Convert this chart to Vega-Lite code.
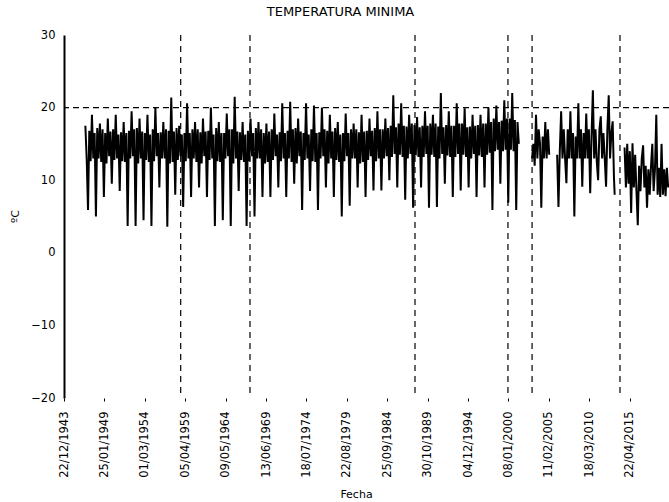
{
"$schema": "https://vega.github.io/schema/vega-lite/v6.json",
"width": 605, "height": 363,
"autosize": {"type": "none"},
"padding": {"left": 64, "top": 35, "right": 0, "bottom": 104},
"background": "white",
"title": {"text": "TEMPERATURA MINIMA", "font": "DejaVu Sans", "fontSize": 13, "fontWeight": "normal", "color": "black", "anchor": "middle", "dx": -26, "offset": 10},
"config": {"view": {"stroke": null}},
"layer": [
{
"data": {"values": [
{"d":"1946-09","t":17.5},{"d":"1946-11","t":13},
{"d":"1947-01","t":5.9},{"d":"1947-03","t":16.8},{"d":"1947-05","t":12.6},{"d":"1947-07","t":19},{"d":"1947-09","t":13},{"d":"1947-11","t":16.5},
{"d":"1948-01","t":5},{"d":"1948-03","t":17.2},{"d":"1948-05","t":13},{"d":"1948-07","t":17.8},{"d":"1948-09","t":12.5},{"d":"1948-11","t":17},
{"d":"1949-01","t":7.7},{"d":"1949-03","t":16.5},{"d":"1949-05","t":12.3},{"d":"1949-07","t":18.5},{"d":"1949-09","t":13.3},{"d":"1949-11","t":16.7},
{"d":"1950-01","t":9.5},{"d":"1950-03","t":17},{"d":"1950-05","t":12.8},{"d":"1950-07","t":19},{"d":"1950-09","t":13},{"d":"1950-11","t":16.3},
{"d":"1951-01","t":8.5},{"d":"1951-03","t":16.6},{"d":"1951-05","t":12.6},{"d":"1951-07","t":18},{"d":"1951-09","t":12.5},{"d":"1951-11","t":16.5},
{"d":"1952-01","t":3.7},{"d":"1952-03","t":16.8},{"d":"1952-05","t":13},{"d":"1952-07","t":19.5},{"d":"1952-09","t":13.3},{"d":"1952-11","t":17},
{"d":"1953-01","t":3.7},{"d":"1953-03","t":17.2},{"d":"1953-05","t":12.3},{"d":"1953-07","t":18.5},{"d":"1953-09","t":13},{"d":"1953-11","t":16.7},
{"d":"1954-01","t":4.5},{"d":"1954-03","t":16.5},{"d":"1954-05","t":12.8},{"d":"1954-07","t":19},{"d":"1954-09","t":12.5},{"d":"1954-11","t":16.3},
{"d":"1955-01","t":3.7},{"d":"1955-03","t":17},{"d":"1955-05","t":12.6},{"d":"1955-07","t":20},{"d":"1955-09","t":13.3},{"d":"1955-11","t":16.5},
{"d":"1956-01","t":9},{"d":"1956-03","t":16.6},{"d":"1956-05","t":13},{"d":"1956-07","t":18},{"d":"1956-09","t":13},{"d":"1956-11","t":17},
{"d":"1957-01","t":3.6},{"d":"1957-03","t":16.8},{"d":"1957-05","t":12.3},{"d":"1957-07","t":21.4},{"d":"1957-09","t":12.5},{"d":"1957-11","t":16.7},
{"d":"1958-01","t":8},{"d":"1958-03","t":17.2},{"d":"1958-05","t":12.8},{"d":"1958-07","t":17.5},{"d":"1958-09","t":13.3},{"d":"1958-11","t":16.3},
{"d":"1959-01","t":6.3},{"d":"1959-03","t":16.5},{"d":"1959-05","t":12.6},{"d":"1959-07","t":20.6},{"d":"1959-09","t":13},{"d":"1959-11","t":16.5},
{"d":"1960-01","t":7.7},{"d":"1960-03","t":17},{"d":"1960-05","t":13},{"d":"1960-07","t":18},{"d":"1960-09","t":12.5},{"d":"1960-11","t":17},
{"d":"1961-01","t":9},{"d":"1961-03","t":16.6},{"d":"1961-05","t":12.3},{"d":"1961-07","t":18.5},{"d":"1961-09","t":13.3},{"d":"1961-11","t":16.7},
{"d":"1962-01","t":7.7},{"d":"1962-03","t":16.8},{"d":"1962-05","t":12.8},{"d":"1962-07","t":20},{"d":"1962-09","t":13},{"d":"1962-11","t":16.3},
{"d":"1963-01","t":3.7},{"d":"1963-03","t":17.2},{"d":"1963-05","t":12.6},{"d":"1963-07","t":18},{"d":"1963-09","t":12.5},{"d":"1963-11","t":16.5},
{"d":"1964-01","t":4.5},{"d":"1964-03","t":16.5},{"d":"1964-05","t":13},{"d":"1964-07","t":19.2},{"d":"1964-09","t":13.3},{"d":"1964-11","t":17},
{"d":"1965-01","t":3.7},{"d":"1965-03","t":17},{"d":"1965-05","t":12.3},{"d":"1965-07","t":21.5},{"d":"1965-09","t":13},{"d":"1965-11","t":16.7},
{"d":"1966-01","t":8.5},{"d":"1966-03","t":16.6},{"d":"1966-05","t":12.8},{"d":"1966-07","t":18},{"d":"1966-09","t":12.5},{"d":"1966-11","t":16.3},
{"d":"1967-01","t":3.7},{"d":"1967-03","t":16.8},{"d":"1967-05","t":12.6},{"d":"1967-07","t":18.5},{"d":"1967-09","t":13.3},{"d":"1967-11","t":16.5},
{"d":"1968-01","t":5},{"d":"1968-03","t":17.2},{"d":"1968-05","t":13},{"d":"1968-07","t":18},{"d":"1968-09","t":13},{"d":"1968-11","t":17},
{"d":"1969-01","t":7.7},{"d":"1969-03","t":16.5},{"d":"1969-05","t":12.3},{"d":"1969-07","t":17.8},{"d":"1969-09","t":12.5},{"d":"1969-11","t":16.7},
{"d":"1970-01","t":7.7},{"d":"1970-03","t":17},{"d":"1970-05","t":12.8},{"d":"1970-07","t":19.2},{"d":"1970-09","t":13.3},{"d":"1970-11","t":16.3},
{"d":"1971-01","t":9},{"d":"1971-03","t":16.6},{"d":"1971-05","t":12.6},{"d":"1971-07","t":20.6},{"d":"1971-09","t":13},{"d":"1971-11","t":16.5},
{"d":"1972-01","t":7.7},{"d":"1972-03","t":16.8},{"d":"1972-05","t":13},{"d":"1972-07","t":20.8},{"d":"1972-09","t":12.5},{"d":"1972-11","t":17},
{"d":"1973-01","t":9.5},{"d":"1973-03","t":17.2},{"d":"1973-05","t":12.3},{"d":"1973-07","t":18.5},{"d":"1973-09","t":13.3},{"d":"1973-11","t":16.7},
{"d":"1974-01","t":5.9},{"d":"1974-03","t":16.5},{"d":"1974-05","t":12.8},{"d":"1974-07","t":20.6},{"d":"1974-09","t":13},{"d":"1974-11","t":16.3},
{"d":"1975-01","t":8.5},{"d":"1975-03","t":17},{"d":"1975-05","t":12.6},{"d":"1975-07","t":20.3},{"d":"1975-09","t":12.5},{"d":"1975-11","t":16.5},
{"d":"1976-01","t":5.9},{"d":"1976-03","t":16.6},{"d":"1976-05","t":13},{"d":"1976-07","t":20},{"d":"1976-09","t":13.3},{"d":"1976-11","t":17},
{"d":"1977-01","t":9},{"d":"1977-03","t":16.8},{"d":"1977-05","t":12.3},{"d":"1977-07","t":19},{"d":"1977-09","t":13},{"d":"1977-11","t":16.7},
{"d":"1978-01","t":7.7},{"d":"1978-03","t":17.2},{"d":"1978-05","t":12.8},{"d":"1978-07","t":18},{"d":"1978-09","t":12.5},{"d":"1978-11","t":16.3},
{"d":"1979-01","t":5},{"d":"1979-03","t":16.5},{"d":"1979-05","t":12.6},{"d":"1979-07","t":19.2},{"d":"1979-09","t":13.3},{"d":"1979-11","t":16.5},
{"d":"1980-01","t":6.5},{"d":"1980-03","t":17},{"d":"1980-05","t":13},{"d":"1980-07","t":17.8},{"d":"1980-09","t":13},{"d":"1980-11","t":17},
{"d":"1981-01","t":9},{"d":"1981-03","t":16.6},{"d":"1981-05","t":12.3},{"d":"1981-07","t":19},{"d":"1981-09","t":12.5},{"d":"1981-11","t":16.7},
{"d":"1982-01","t":7.7},{"d":"1982-03","t":16.8},{"d":"1982-05","t":12.8},{"d":"1982-07","t":18.5},{"d":"1982-09","t":13.3},{"d":"1982-11","t":16.8},
{"d":"1983-01","t":8.6},{"d":"1983-03","t":17.2},{"d":"1983-05","t":12.6},{"d":"1983-07","t":19.5},{"d":"1983-09","t":13},{"d":"1983-11","t":17},
{"d":"1984-01","t":8.6},{"d":"1984-03","t":17},{"d":"1984-05","t":13},{"d":"1984-07","t":18.5},{"d":"1984-09","t":13.3},{"d":"1984-11","t":17.2},
{"d":"1985-01","t":10},{"d":"1985-03","t":17.5},{"d":"1985-05","t":13.2},{"d":"1985-07","t":21.7},{"d":"1985-09","t":13.6},{"d":"1985-11","t":17.3},
{"d":"1986-01","t":9},{"d":"1986-03","t":17.8},{"d":"1986-05","t":13.5},{"d":"1986-07","t":20.6},{"d":"1986-09","t":13.2},{"d":"1986-11","t":17.5},
{"d":"1987-01","t":7.3},{"d":"1987-03","t":17.4},{"d":"1987-05","t":13},{"d":"1987-07","t":19},{"d":"1987-09","t":13.6},{"d":"1987-11","t":17.8},
{"d":"1988-01","t":6.2},{"d":"1988-03","t":17.6},{"d":"1988-05","t":13.4},{"d":"1988-07","t":18.7},{"d":"1988-09","t":13.2},{"d":"1988-11","t":17.3},
{"d":"1989-01","t":9},{"d":"1989-03","t":17.5},{"d":"1989-05","t":13.2},{"d":"1989-07","t":19.5},{"d":"1989-09","t":13.6},{"d":"1989-11","t":17.5},
{"d":"1990-01","t":6.2},{"d":"1990-03","t":17.8},{"d":"1990-05","t":13.5},{"d":"1990-07","t":19},{"d":"1990-09","t":13.2},{"d":"1990-11","t":17.8},
{"d":"1991-01","t":6.3},{"d":"1991-03","t":17.4},{"d":"1991-05","t":13},{"d":"1991-07","t":22},{"d":"1991-09","t":13.6},{"d":"1991-11","t":17.3},
{"d":"1992-01","t":9.5},{"d":"1992-03","t":17.6},{"d":"1992-05","t":13.4},{"d":"1992-07","t":19.5},{"d":"1992-09","t":13.2},{"d":"1992-11","t":17.5},
{"d":"1993-01","t":7.7},{"d":"1993-03","t":17.5},{"d":"1993-05","t":13.2},{"d":"1993-07","t":20.6},{"d":"1993-09","t":13.6},{"d":"1993-11","t":17.8},
{"d":"1994-01","t":8.6},{"d":"1994-03","t":17.8},{"d":"1994-05","t":13.5},{"d":"1994-07","t":19.9},{"d":"1994-09","t":13.2},{"d":"1994-11","t":17.3},
{"d":"1995-01","t":9},{"d":"1995-03","t":17.4},{"d":"1995-05","t":13},{"d":"1995-07","t":19},{"d":"1995-09","t":13.6},{"d":"1995-11","t":17.5},
{"d":"1996-01","t":7.7},{"d":"1996-03","t":17.6},{"d":"1996-05","t":13.4},{"d":"1996-07","t":19},{"d":"1996-09","t":13.2},{"d":"1996-11","t":17.8},
{"d":"1997-01","t":9},{"d":"1997-03","t":17.8},{"d":"1997-05","t":13.5},{"d":"1997-07","t":20},{"d":"1997-09","t":13.8},{"d":"1997-11","t":18},
{"d":"1998-01","t":5.9},{"d":"1998-03","t":18.5},{"d":"1998-05","t":14},{"d":"1998-07","t":20.3},{"d":"1998-09","t":14.2},{"d":"1998-11","t":18},
{"d":"1999-01","t":9.5},{"d":"1999-03","t":18.2},{"d":"1999-05","t":14},{"d":"1999-07","t":21},{"d":"1999-09","t":14.2},{"d":"1999-11","t":18.5},
{"d":"2000-01","t":6.9},{"d":"2000-03","t":18.5},{"d":"2000-05","t":14.2},{"d":"2000-07","t":22},{"d":"2000-09","t":14},{"d":"2000-11","t":18.3},
{"d":"2001-01","t":5.9},{"d":"2001-03","t":18},{"d":"2001-05","t":15},
{"d":"2002-01","t":null},
{"d":"2003-01","t":13},{"d":"2003-03","t":15},{"d":"2003-05","t":12},{"d":"2003-07","t":19},{"d":"2003-09","t":13},{"d":"2003-11","t":17},
{"d":"2004-01","t":15},{"d":"2004-03","t":6.2},{"d":"2004-05","t":16},{"d":"2004-07","t":13},{"d":"2004-09","t":18},{"d":"2004-11","t":13},
{"d":"2005-01","t":17},{"d":"2005-03","t":13.5},
{"d":"2005-09","t":null},
{"d":"2006-03","t":13.5},{"d":"2006-05","t":6.3},{"d":"2006-07","t":14},{"d":"2006-09","t":19.5},{"d":"2006-11","t":13},
{"d":"2007-01","t":17},{"d":"2007-03","t":13},{"d":"2007-05","t":9.6},{"d":"2007-07","t":17},{"d":"2007-09","t":13},{"d":"2007-11","t":19.5},
{"d":"2008-01","t":13},{"d":"2008-03","t":16.5},{"d":"2008-05","t":5},{"d":"2008-07","t":16},{"d":"2008-09","t":13},{"d":"2008-11","t":20.6},
{"d":"2009-01","t":13},{"d":"2009-03","t":17},{"d":"2009-05","t":9.1},{"d":"2009-07","t":16.5},{"d":"2009-09","t":13},{"d":"2009-11","t":19.2},
{"d":"2010-01","t":13},{"d":"2010-03","t":17},{"d":"2010-05","t":8.2},{"d":"2010-07","t":16},{"d":"2010-09","t":22.4},{"d":"2010-11","t":13},
{"d":"2011-01","t":17},{"d":"2011-03","t":12.5},{"d":"2011-05","t":10},{"d":"2011-07","t":17},{"d":"2011-09","t":18.8},{"d":"2011-11","t":13},
{"d":"2012-01","t":16.5},{"d":"2012-03","t":13},{"d":"2012-05","t":9.1},{"d":"2012-07","t":17},{"d":"2012-09","t":21.7},{"d":"2012-11","t":13},
{"d":"2013-01","t":16.5},{"d":"2013-03","t":18.1},{"d":"2013-05","t":10.3},{"d":"2013-06","t":8},
{"d":"2014-01","t":null},
{"d":"2014-09","t":14.5},{"d":"2014-11","t":9},
{"d":"2015-01","t":15},{"d":"2015-03","t":9.5},{"d":"2015-05","t":14},{"d":"2015-07","t":5.5},{"d":"2015-09","t":15.1},{"d":"2015-11","t":9},
{"d":"2016-01","t":13.5},{"d":"2016-03","t":8.5},{"d":"2016-05","t":3.8},{"d":"2016-07","t":12},{"d":"2016-09","t":8.5},{"d":"2016-11","t":13},
{"d":"2017-01","t":14.8},{"d":"2017-03","t":9},{"d":"2017-05","t":12},{"d":"2017-07","t":6.2},{"d":"2017-09","t":11.5},{"d":"2017-11","t":8},
{"d":"2018-01","t":12},{"d":"2018-03","t":15},{"d":"2018-05","t":8.5},{"d":"2018-07","t":11.5},{"d":"2018-09","t":19},{"d":"2018-11","t":8},
{"d":"2019-01","t":11.7},{"d":"2019-03","t":7.7},{"d":"2019-05","t":15},{"d":"2019-07","t":8},{"d":"2019-09","t":11.5},{"d":"2019-11","t":7.8},
{"d":"2020-01","t":11.7},{"d":"2020-03","t":9}
]},
"mark": {"type": "line", "color": "black", "strokeWidth": 2, "invalid": "break-paths-show-domains", "clip": true},
"encoding": {
"x": {"field": "d", "type": "temporal", "title": "Fecha",
 "scale": {"type": "utc", "domain": [{"year":1943,"month":12,"date":22,"utc":true},{"year":2020,"month":4,"date":8,"utc":true}]},
 "axis": {"values": [
  {"year":1943,"month":12,"date":22,"utc":true},
  {"year":1949,"month":1,"date":25,"utc":true},
  {"year":1954,"month":3,"date":1,"utc":true},
  {"year":1959,"month":4,"date":5,"utc":true},
  {"year":1964,"month":5,"date":9,"utc":true},
  {"year":1969,"month":6,"date":13,"utc":true},
  {"year":1974,"month":7,"date":18,"utc":true},
  {"year":1979,"month":8,"date":22,"utc":true},
  {"year":1984,"month":9,"date":25,"utc":true},
  {"year":1989,"month":10,"date":30,"utc":true},
  {"year":1994,"month":12,"date":4,"utc":true},
  {"year":2000,"month":1,"date":8,"utc":true},
  {"year":2005,"month":2,"date":11,"utc":true},
  {"year":2010,"month":3,"date":18,"utc":true},
  {"year":2015,"month":4,"date":22,"utc":true}],
  "format": "%d/%m/%Y", "labelAngle": -90, "labelFlush": false, "labelOverlap": false, "labelBound": false,
  "domain": false, "grid": false, "ticks": true, "tickSize": 3, "tickColor": "black", "tickWidth": 1,
  "labelFont": "DejaVu Sans", "labelFontSize": 11.5, "labelColor": "black", "labelPadding": 10,
  "titleFont": "DejaVu Sans", "titleFontSize": 11, "titleFontWeight": "normal", "titleColor": "black",
  "titleX": 292, "titleY": 99, "titleBaseline": "alphabetic", "titleAlign": "center"}},
"y": {"field": "t", "type": "quantitative", "title": "ºC",
 "scale": {"domain": [-20, 30], "nice": false, "zero": false},
 "axis": {"values": [-20,-15,-10,-5,0,5,10,15,20,25,30],
  "domain": true, "domainColor": "black", "domainWidth": 2, "ticks": false, "grid": false,
  "labelFont": "DejaVu Sans", "labelFontSize": 11.5, "labelColor": "black", "labelPadding": 9,
  "titleFont": "DejaVu Sans", "titleFontSize": 11, "titleFontWeight": "normal", "titleColor": "black",
  "titleAngle": -90, "titleX": -49, "titleY": 181, "titleAlign": "center", "titleBaseline": "middle"}}
}
},
{
"data": {"values": [{"t": 20}]},
"mark": {"type": "rule", "color": "black", "strokeWidth": 1.2, "strokeDash": [6, 4]},
"encoding": {"y": {"field": "t", "type": "quantitative", "title": "ºC", "scale": {"domain": [-20, 30], "nice": false, "zero": false}}}
},
{
"data": {"values": [{"d":"1958-09-09"},{"d":"1967-06-06"},{"d":"1988-03-27"},{"d":"1999-12-17"},{"d":"2003-01-01"},{"d":"2014-02-01"}]},
"mark": {"type": "rule", "color": "black", "strokeWidth": 1.2, "strokeDash": [6, 5]},
"encoding": {"x": {"field": "d", "type": "temporal", "title": "Fecha", "scale": {"type": "utc", "domain": [{"year":1943,"month":12,"date":22,"utc":true},{"year":2020,"month":4,"date":8,"utc":true}]}}}
}
]
}
